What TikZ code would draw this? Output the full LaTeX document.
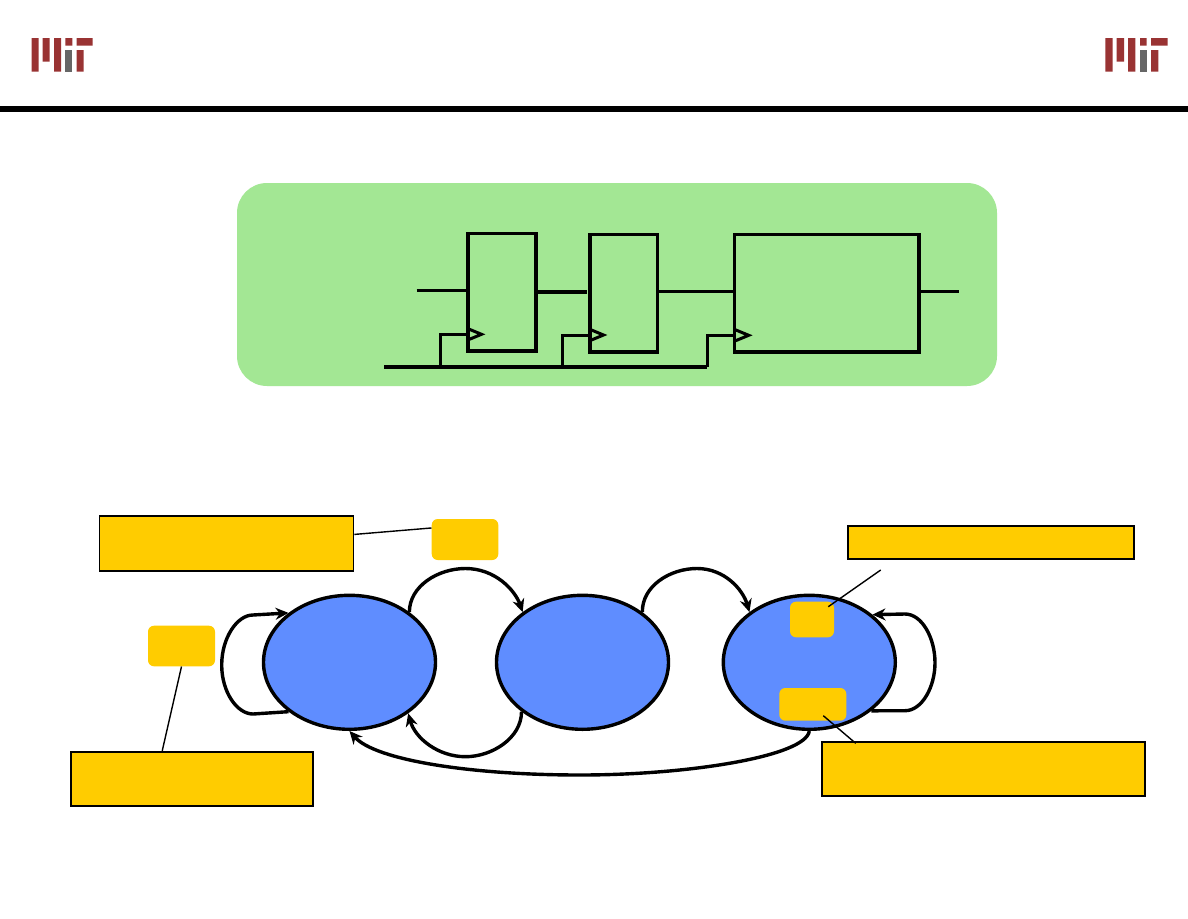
\documentclass[tikz,border=0pt]{standalone}
\usetikzlibrary{arrows.meta,shapes.geometric,calc}
\definecolor{mitred}{HTML}{993333}
\definecolor{mitgray}{HTML}{666666}
\definecolor{panelgreen}{HTML}{A3E794}
\definecolor{stateblue}{HTML}{5F8DFF}
\definecolor{noteyellow}{HTML}{FFCC00}
\tikzset{
  stateoval/.style={ellipse,draw=black,line width=3.4pt,fill=stateblue,minimum width=172pt,minimum height=134pt,inner sep=0pt},
  notebox/.style={rectangle,draw=black,line width=1.8pt,fill=noteyellow,inner sep=0pt},
  tagbox/.style={rectangle,rounded corners=6pt,fill=noteyellow,inner sep=0pt},
  ffbox/.style={rectangle,draw=black,line width=3.4pt,inner sep=0pt},
  wire/.style={line width=3.4pt,draw=black},
  clkmark/.style={line width=3pt,draw=black,miter limit=10},
  trans/.style={line width=3.4pt,draw=black,-{Stealth[length=13pt,width=12pt]}},
  leader/.style={line width=1.4pt,draw=black},
}
\begin{document}
\begin{tikzpicture}[x=1pt,y=-1pt]
\useasboundingbox (0,0) rectangle (1188,918);
\fill[white] (0,0) rectangle (1188,918);
% logos
\fill[mitred] (31.5,38) rectangle (38.5,71.7) (42.7,38) rectangle (49.7,61.7) (54,38) rectangle (61,71.7) (65.3,38) rectangle (72.3,45.7) (76.7,38) rectangle (92.7,45.7) (76.7,50) rectangle (83.7,71.7);
\fill[mitgray] (65.3,50) rectangle (72.3,71.7);
\fill[mitred] (1105.3,38) rectangle (1112.7,71.7) (1116.7,38) rectangle (1124,61.7) (1128,38) rectangle (1135.3,71.7) (1140,38) rectangle (1146.7,45.7) (1151,38) rectangle (1167.7,45.7) (1151,50) rectangle (1158.3,71.7);
\fill[mitgray] (1140,50) rectangle (1146.7,71.7);
% header rule
\fill[black] (0,106) rectangle (1188,112);
% green panel
\node[rectangle,rounded corners=30pt,fill=panelgreen,minimum width=760pt,minimum height=203pt,inner sep=0pt] (panel) at (617,284.5) {};
% flip-flops and logic block
\node[ffbox,minimum width=68pt,minimum height=117.5pt] (FFa) at (502,292.25) {};
\node[ffbox,minimum width=67.5pt,minimum height=117.3pt] (FFb) at (623.75,293.35) {};
\node[ffbox,minimum width=184.3pt,minimum height=117.3pt] (LOGIC) at (826.85,293.35) {};
\coordinate (din) at (416.7,290.7);
\coordinate (FFad) at (468,290.7);
\coordinate (FFaq) at (536,291.7);
\coordinate (FFbd) at (587,291.7);
\coordinate (FFbq) at (657.5,291.7);
\coordinate (LOGICd) at (734.7,291.7);
\coordinate (LOGICq) at (919,291.7);
\coordinate (dout) at (959,291.7);
\coordinate (clkL) at (384,367);
\coordinate (clkA) at (440,367);
\coordinate (clkB) at (562.3,367);
\coordinate (clkC) at (707.3,367);
\coordinate (FFack) at (468,334.3);
\coordinate (FFbck) at (590,335);
\coordinate (LOGICck) at (734.7,335.3);
\draw[wire,line width=2.8pt] (din) -- (FFad);
\draw[wire,line width=4pt] (FFaq) -- (FFbd);
\draw[wire,line width=2.8pt] (FFbq) -- (LOGICd);
\draw[wire] (LOGICq) -- (dout);
\draw[wire] (clkL) -- (clkC);
\draw[wire,line width=3pt] (clkA) |- (FFack);
\draw[wire,line width=3pt] (clkB) |- (FFbck);
\draw[wire,line width=3pt] (clkC) |- (LOGICck);
\draw[clkmark] ($(FFack)+(0,-5.6)$) -- ($(FFack)+(13.5,0)$) -- ($(FFack)+(0,5.6)$);
\draw[clkmark] ($(FFbck)+(0,-5.6)$) -- ($(FFbck)+(13.5,0)$) -- ($(FFbck)+(0,5.6)$);
\draw[clkmark] ($(LOGICck)+(0,-5.8)$) -- ($(LOGICck)+(14,0)$) -- ($(LOGICck)+(0,5.8)$);
% states
\node[stateoval] (S1) at (349.5,662.3) {};
\node[stateoval] (S2) at (582.5,662.3) {};
\node[stateoval] (S3) at (809.3,662.3) {};
% notes
\node[notebox,minimum width=254pt,minimum height=55.3pt] (noteA) at (226.5,543.35) {};
\node[notebox,minimum width=242.3pt,minimum height=54pt] (noteB) at (192.15,778.7) {};
\node[notebox,minimum width=286pt,minimum height=33.6pt] (noteC) at (991.3,542.5) {};
\node[notebox,minimum width=323.6pt,minimum height=54.3pt] (noteD) at (983.5,768.85) {};
% tags
\node[tagbox,minimum width=66.6pt,minimum height=41pt] (tagA) at (465,539.5) {};
\node[tagbox,minimum width=67pt,minimum height=40.6pt] (tagB) at (181.5,646) {};
\node[tagbox,minimum width=44pt,minimum height=35.6pt] (tagC) at (812,619.5) {};
\node[tagbox,minimum width=67pt,minimum height=32.7pt] (tagD) at (812.8,704.35) {};
% leaders
\draw[leader] (noteA.4.2) -- (tagA.161);
\draw[leader] (tagB.south) -- (noteB.137);
\coordinate (cfree) at (880.7,570);
\coordinate (cin) at (828.3,606.7);
\coordinate (dfree) at (855.7,743.3);
\coordinate (din2) at (823.3,715.7);
\draw[leader] (cfree) -- (cin);
\draw[leader] (din2) -- (dfree);
% transitions
\draw[trans] (S1.40) .. controls (409.5,586) and (438,568.5) .. (465.5,568.5) .. controls (495,568.5) and (515,590) .. (S2.140);
\draw[trans] (S2.40) .. controls (642,586) and (670,568.5) .. (697,568.5) .. controls (725,568.5) and (743,590) .. (S3.140);
\draw[trans] (S2.219) .. controls (521.5,738) and (492,756.7) .. (465.5,756.7) .. controls (438,756.7) and (415,738) .. (S1.319);
\draw[trans] (S3.south) .. controls (806,756) and (690,775) .. (580,775) .. controls (470,775) and (375,760) .. (S1.south);
\draw[trans] (S1.219.7) -- (253,714) .. controls (237,714) and (221.7,692) .. (221.7,665) .. controls (221.7,638) and (237,615) .. (253,615) -- (S1.141.9);
\draw[trans] (S3.322) -- (905,710.7) .. controls (922,710.7) and (935,687) .. (935,662.7) .. controls (935,638) and (922,614) .. (905,614) -- (S3.37);
\end{tikzpicture}
\end{document}
